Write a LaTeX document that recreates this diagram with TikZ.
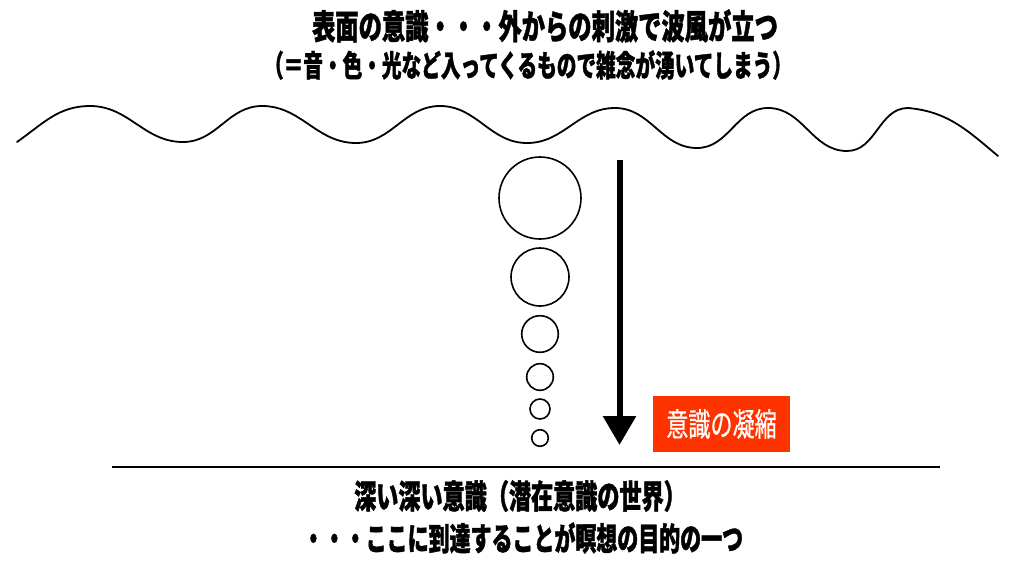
\documentclass[tikz,border=0pt]{standalone}
\usepackage{fontspec}
\usetikzlibrary{arrows.meta}
\newfontfamily\jpa[FakeStretch=0.685, BoldFeatures={FakeBold=1.2}]{Noto Sans CJK JP}
\newfontfamily\jpb[FakeStretch=0.655, BoldFeatures={FakeBold=1.2}]{Noto Sans CJK JP}
\newfontfamily\jpc[FakeStretch=0.67, BoldFeatures={FakeBold=1.2}]{Noto Sans CJK JP}
\newfontfamily\jpd[FakeStretch=0.655, BoldFeatures={FakeBold=1.2}]{Noto Sans CJK JP}
\newfontfamily\jpe[FakeStretch=0.69, FakeBold=0.6]{Noto Sans CJK JP}
\definecolor{labelred}{HTML}{FF3300}
\begin{document}
\begin{tikzpicture}[x=1pt,y=-1pt,
  txt/.style={inner sep=0pt, anchor=center, text=black},
  bubble/.style={circle, draw=black, line width=1.6pt, inner sep=0pt, minimum size=#1},
  wave/.style={line width=1.8pt, line cap=round},
  sinkarrow/.style={line width=6pt, -{Triangle[width=32pt,length=29pt]}},
  tag/.style={fill=labelred, text=white, minimum width=137pt, minimum height=56pt, inner sep=0pt}
]
\useasboundingbox (0,0) rectangle (1024,576);
\fill[white] (0,0) rectangle (1024,576);

% texts
\node[txt, font=\jpa\bfseries\fontsize{34}{34}\selectfont] (t1) at (545,26) {表面の意識・・・外からの刺激で波風が立つ};
\node[txt, font=\jpb\bfseries\fontsize{30}{30}\selectfont] (t2) at (528,65) {（＝音・色・光など入ってくるもので雑念が湧いてしまう）};
\node[txt, font=\jpc\bfseries\fontsize{33}{33}\selectfont] (b1) at (520,496) {深い深い意識（潜在意識の世界）};
\node[txt, font=\jpd\bfseries\fontsize{32}{32}\selectfont] (b2) at (523,538) {・・・ここに到達することが瞑想の目的の一つ};

% wave
\draw[wave] (17,142) to[out=35,in=180] (90,106) to[out=0,in=180] (183,142)
  to[out=0,in=180] (262,106) to[out=0,in=180] (356,143)
  to[out=0,in=180] (440,106) to[out=0,in=180] (527,143)
  to[out=0,in=180] (615,108) to[out=0,in=180] (697,148)
  to[out=0,in=180] (768,108) to[out=0,in=180] (847,151)
  to[out=0,in=180] (908,108) to[out=-5,in=140] (998,156);

% bubbles
\node[bubble=82pt] (c1) at (540,198) {};
\node[bubble=58pt] (c2) at (540,277) {};
\node[bubble=36.6pt] (c3) at (540,334) {};
\node[bubble=26.6pt] (c4) at (540,377) {};
\node[bubble=20pt] (c5) at (540,409) {};
\node[bubble=16.6pt] (c6) at (540,438) {};

% arrow
\coordinate (atop) at (619.5,160);
\coordinate (abot) at (619.5,445);
\draw[sinkarrow] (atop) -- (abot);

% label
\node[tag] (lab) at (721.5,424) {\jpe\fontsize{32}{32}\selectfont 意識の凝縮};

% bottom line
\coordinate (l1) at (112,467);
\coordinate (l2) at (940,467);
\draw[line width=1.5pt] (l1) -- (l2);
\end{tikzpicture}
\end{document}
